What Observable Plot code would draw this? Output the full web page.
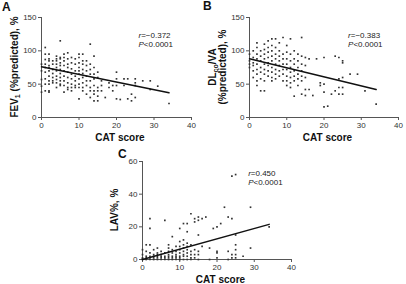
<!DOCTYPE html>
<html><head><meta charset="utf-8">
<script src="https://cdn.jsdelivr.net/npm/d3@7"></script>
<script src="https://cdn.jsdelivr.net/npm/@observablehq/plot@0.6"></script>
<style>
body{margin:0;background:#fff;}
#wrap{position:relative;width:406px;height:284px;overflow:hidden;font-family:"Liberation Sans",Arial,sans-serif;}
#wrap svg{position:absolute;overflow:visible;}
</style></head><body><div id="wrap"></div>
<script>
// ---- data (CAT score column, values at that score) ----
const xTicks = [0, 10, 20, 30, 40];
const yTicksAB = [0, 50, 100, 150];
const yTicksC = [0, 20, 40, 60];

const fevCols = [
  [0,[80,70,57,47,38]],[1,[105,95,87,80,75,68,58,50,40]],[2,[95,88,85,78,75,70,62,55,50,40,38]],
  [3,[85,80,72,66,60,55,52]],[4,[92,88,85,80,75,70,62,57,52,45]],[5,[115,90,88,82,78,72,66,60,55,50,48]],
  [6,[95,90,85,78,70,62,55,48,38]],[7,[97,88,80,75,68,60,52,45,42]],[8,[90,82,73,65,58,50,45,40]],
  [9,[88,80,70,62,55,48,45]],[10,[95,90,82,75,70,65,58,50,45,28]],[11,[95,85,80,72,66,60,52,45,40]],
  [12,[85,78,70,62,55,48,35]],[13,[110,80,72,65,55,45,40,30]],[14,[92,75,65,58,48,40,35,25]],
  [15,[68,60,45,40,32,25]],[16,[55,48,40]],[17,[30]],[18,[52,45]],[19,[48,40]],[20,[68,58,48,28]],
  [21,[27]],[22,[58,48]],[23,[58,28]],[24,[35,25]],[25,[58,52,48,30]],[27,[55]],[29,[55,42]],[31,[47]],[34,[21]]
];
const dlcoCols = [
  [0,[95,85,80,75]],[1,[100,90,82,78,70,60]],[2,[112,105,95,88,80,72,65,55,48]],
  [3,[100,92,85,75,68,58,40]],[4,[110,102,95,88,80,72,65,55,40]],[5,[115,105,98,90,82,78,70,62]],
  [6,[118,108,100,92,85,75,68,60,55]],[7,[118,105,95,88,80,72,65,58]],[8,[112,100,92,85,78,70,62]],
  [9,[120,95,88,80,72,65,55]],[10,[108,98,88,80,72,62,55,48]],[11,[118,95,85,75,68,60,52,45]],
  [12,[100,88,80,70,62,55,32]],[13,[95,85,75,65,58,48]],[14,[120,92,80,70,62,55,35]],
  [15,[90,78,60,42,33]],[16,[88,42]],[17,[33]],[18,[88]],[19,[52,48]],[20,[90,50,38,16]],
  [21,[17]],[22,[35]],[23,[92,40]],[24,[90,58,45,35]],[25,[85,82,60,45,35]],[27,[65]],[29,[65]],[31,[40]],[34,[20]]
];
const lavCols = [
  [0,[6,3,1,0.5,0]],[1,[9,5,2,1,0]],[2,[25,19,9,4,2,1,0]],[3,[6,3,2,1,0]],[4,[7,4,3,2,1,0]],
  [5,[5,3,2,1,0]],[6,[24,4,2,1,0]],[7,[9,7,5,3,2,1,0]],[8,[14,6,4,2,1,0]],[9,[8,5,3,2,1,0]],
  [10,[19,11,8,6,4,2,1,0]],[11,[22,12,9,7,5,3,2,0]],[12,[22,17,10,8,6,4,2,0]],[13,[28,9,5,3,1,0]],
  [14,[25,23,6,3,1]],[15,[26,24,15,5,3,0]],[16,[25,8]],[17,[26]],[18,[7,0]],[19,[19]],[20,[20,5,4,1]],
  [21,[22]],[22,[32]],[23,[26,5,0]],[24,[51,25,3,1]],[25,[52,15,9,6,3,1]],[27,[2]],[29,[32,7]],[34,[20]]
];
// fitted regression lines (endpoints)
const fitA = [{x:0, y:76}, {x:34, y:37}];
const fitB = [{x:0, y:88}, {x:34, y:42}];
const fitC = [{x:0, y:0}, {x:34, y:21.5}];
const statsA = ["=\u22120.372", "<0.0001"];
const statsB = ["=\u22120.383", "<0.0001"];
const statsC = ["=0.450", "<0.0001"];

const FONT = "Liberation Sans, Arial, sans-serif";
const wrap = document.getElementById("wrap");

function panel(o) {
  const rows = o.cols.flatMap(([x, ys]) => ys.map(y => ({x, y})));
  const chart = Plot.plot({
    width: o.width, height: o.height,
    marginLeft: o.ml, marginRight: o.mr, marginTop: o.mt, marginBottom: o.mb,
    style: {fontFamily: FONT, fontSize: "8px", color: "#333", background: "transparent", overflow: "visible"},
    x: {domain: [0, 40], label: null},
    y: {domain: o.yDomain, label: null},
    marks: [
      Plot.axisX({ticks: xTicks, tickSize: 3, tickPadding: 1.5, label: null, stroke: "#555"}),
      Plot.axisY({ticks: o.yTicks, tickSize: 3, tickPadding: 2, label: null, stroke: "#555"}),
      Plot.ruleX([0], {y1: o.yDomain[0], y2: o.yDomain[1], stroke: "#555"}),
      Plot.ruleY([o.yDomain[0]], {x1: 0, x2: 40, stroke: "#555"}),
      Plot.dot(rows, {x: "x", y: "y", r: 0.95, symbol: "square", fill: "#333", stroke: "none"}),
      Plot.line(o.fit, {x: "x", y: "y", stroke: "#111", strokeWidth: 1.5})
    ]
  });
  chart.style.left = o.left + "px";
  chart.style.top = o.top + "px";
  wrap.appendChild(chart);
  const svg = d3.select(chart);
  const x0 = o.ml, x1 = o.width - o.mr, y0 = o.height - o.mb, y1 = o.mt;
  const px = v => x0 + (v / 40) * (x1 - x0);
  const py = v => y0 - ((v - o.yDomain[0]) / (o.yDomain[1] - o.yDomain[0])) * (y0 - y1);
  // panel letter
  svg.append("text").attr("x", o.letter[1]).attr("y", o.letter[2]).attr("text-anchor", "start")
    .attr("font-family", FONT).attr("font-size", 12).attr("font-weight", "bold").attr("fill", "#111").text(o.letter[0]);
  // x title
  const cx = (x0 + x1) / 2 + 4;
  svg.append("text").attr("x", cx).attr("y", y0 + 24).attr("text-anchor", "middle")
    .attr("font-family", FONT).attr("font-size", 10).attr("font-weight", "bold").attr("fill", "#111").text("CAT score");
  // y title(s)
  const cy = (y0 + y1) / 2;
  o.ylines.forEach((parts, i) => {
    const t = svg.append("text").attr("transform", `translate(${o.ylx[i]},${cy}) rotate(-90)`)
      .attr("text-anchor", "middle").attr("font-family", FONT).attr("font-size", 10)
      .attr("font-weight", "bold").attr("fill", "#111");
    let shift = 0;
    parts.forEach(p => {
      if (typeof p === "string") {
        const s = t.append("tspan").text(p);
        if (shift) { s.attr("dy", -shift); shift = 0; }
      } else {
        t.append("tspan").attr("font-size", 7).attr("dy", 1.5).text(p.sub);
        shift = 1.5;
      }
    });
  });
  // stats annotation
  const ax = px(o.ann[0]), ay = py(o.ann[1]);
  const t1 = svg.append("text").attr("x", ax).attr("y", ay).attr("text-anchor", "start")
    .attr("font-family", FONT).attr("font-size", 8).attr("fill", "#222");
  t1.append("tspan").attr("font-style", "italic").text("r");
  t1.append("tspan").text(o.stats[0]);
  const t2 = svg.append("text").attr("x", ax).attr("y", ay + 9).attr("text-anchor", "start")
    .attr("font-family", FONT).attr("font-size", 8).attr("fill", "#222");
  t2.append("tspan").attr("font-style", "italic").text("P");
  t2.append("tspan").text(o.stats[1]);
}

panel({cols: fevCols, yDomain: [0, 150], yTicks: yTicksAB, fit: fitA, stats: statsA,
  left: 0, top: 0, width: 200, height: 145, ml: 41, mr: 9, mt: 17, mb: 28,
  letter: ["A", 2, 11], ylx: [18], ylines: [["FEV", {sub: "1"}, " (%predicted), %"]], ann: [26, 118.5]});
panel({cols: dlcoCols, yDomain: [0, 150], yTicks: yTicksAB, fit: fitB, stats: statsB,
  left: 200, top: 0, width: 206, height: 145, ml: 49, mr: 8, mt: 17, mb: 28,
  letter: ["B", 3, 10], ylx: [16, 26], ylines: [["DL", {sub: "co"}, "/VA"], ["(%predicted), %"]], ann: [26.6, 118.5]});
panel({cols: lavCols, yDomain: [0, 60], yTicks: yTicksC, fit: fitC, stats: statsC,
  left: 100, top: 140, width: 200, height: 144, ml: 42, mr: 9, mt: 21, mb: 25,
  letter: ["C", 18, 18], ylx: [18], ylines: [["LAV%, %"]], ann: [28.5, 50.8]});
</script></body></html>
